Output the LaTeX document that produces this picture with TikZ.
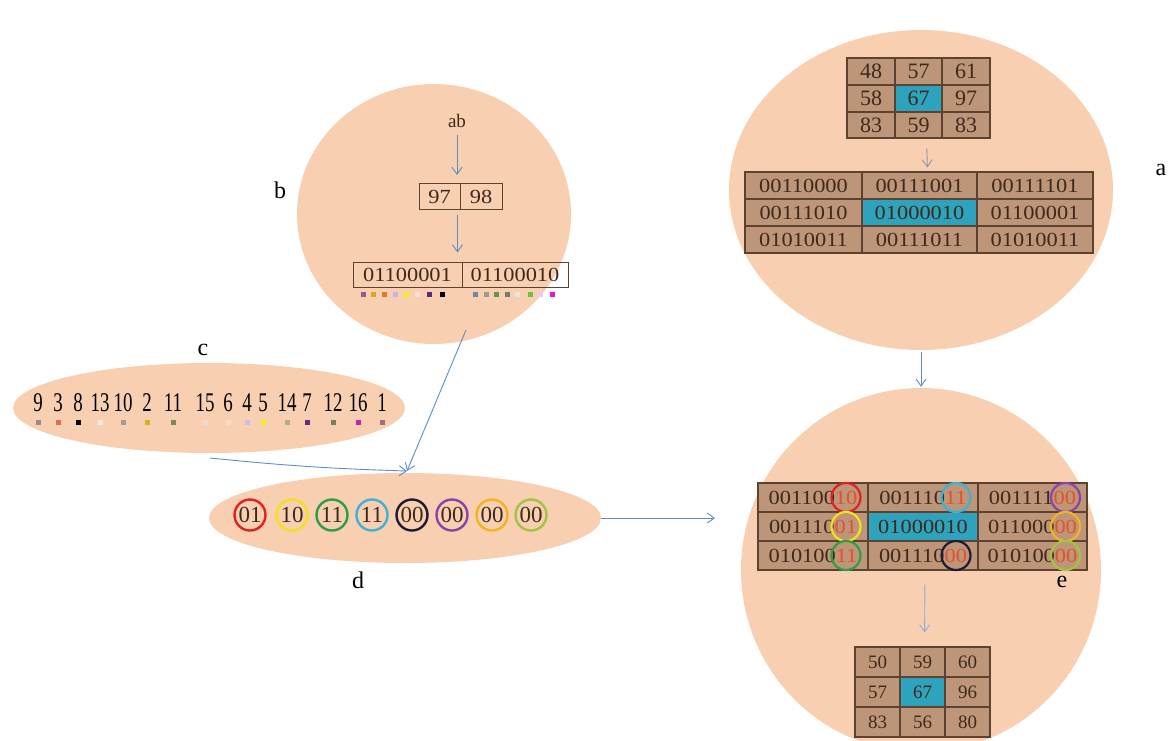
\documentclass[tikz,border=0pt]{standalone}
\usepackage{fontspec}
\setmainfont{Liberation Serif}
\newfontfamily\cnumfont[FakeStretch=0.7]{Liberation Serif}
\newfontfamily\widefont[FakeStretch=1.12]{Liberation Serif}
\usetikzlibrary{shapes.geometric,arrows.meta,calc}
\definecolor{peach}{HTML}{F8CFB1}
\definecolor{cellbrown}{HTML}{BD9579}
\definecolor{tealc}{HTML}{2EA3BD}
\definecolor{cellborder}{HTML}{5C4330}
\definecolor{celltext}{HTML}{3E2A1C}
\definecolor{arrowblue}{HTML}{5B8DC8}
\definecolor{arrowgray}{HTML}{8A98A8}
\definecolor{reddig}{HTML}{E8502A}
% ring colours
\definecolor{rred}{HTML}{E02222}
\definecolor{ryellow}{HTML}{F2E21E}
\definecolor{rgreen}{HTML}{2E9E44}
\definecolor{rcyan}{HTML}{3EB2D2}
\definecolor{rblack}{HTML}{1C1C34}
\definecolor{rpurple}{HTML}{8A44A6}
\definecolor{rgold}{HTML}{F2B422}
\definecolor{rygreen}{HTML}{A2C444}
% square colours
\definecolor{qa}{HTML}{8E5A9A}\definecolor{qb}{HTML}{D8A820}\definecolor{qc}{HTML}{E07830}
\definecolor{qd}{HTML}{C0B8E0}\definecolor{qe}{HTML}{F0F020}\definecolor{qf}{HTML}{F6E4D6}
\definecolor{qg}{HTML}{5A2A7A}\definecolor{qh}{HTML}{000000}
\definecolor{qi}{HTML}{6A8AA8}\definecolor{qj}{HTML}{9A9A9A}\definecolor{qk}{HTML}{5A9A50}
\definecolor{ql}{HTML}{7A7A6A}\definecolor{qm}{HTML}{E8E4E0}\definecolor{qn}{HTML}{70C040}
\definecolor{qo}{HTML}{E8C8F0}\definecolor{qp}{HTML}{F010D0}
\definecolor{s9}{HTML}{9A8A8A}\definecolor{s3}{HTML}{E07050}\definecolor{s8}{HTML}{000000}
\definecolor{s13}{HTML}{F0E8DC}\definecolor{s10}{HTML}{A89A90}\definecolor{s2}{HTML}{D8B020}
\definecolor{s11}{HTML}{7A8A5A}\definecolor{s15}{HTML}{E8DCD8}\definecolor{s6}{HTML}{F6DCC8}
\definecolor{s4}{HTML}{C8C0E0}\definecolor{s5}{HTML}{F0F020}\definecolor{s14}{HTML}{B0B080}
\definecolor{s7}{HTML}{6A2A7A}\definecolor{s12}{HTML}{7A7A60}\definecolor{s16}{HTML}{D020B0}
\definecolor{s1}{HTML}{A07080}
\newcommand\myfA{\fontsize{22}{24}\selectfont}
\newcommand\myfB{\widefont\fontsize{20}{22}\selectfont}
\newcommand\myfC{\fontsize{19}{21}\selectfont}
\newcommand\rd[1]{\textcolor{reddig}{#1}}
\begin{document}
\begin{tikzpicture}[x=1pt,y=-1pt,
  blob/.style={ellipse, fill=peach, draw=none, inner sep=0},
  arr/.style={draw=arrowblue, line width=0.9pt, -{Straight Barb[length=7pt,width=10pt]}},
  garr/.style={arr, draw=arrowgray},
  cell/.style={draw=cellborder, fill=cellbrown, line width=1.1pt, inner sep=0, text=celltext},
  tcell/.style={cell, fill=tealc},
  pcell/.style={draw=cellborder, line width=1pt, inner sep=0, text=celltext},
  lbl/.style={font=\fontsize{24}{26}\selectfont, text=black, inner sep=1pt},
  ring/.style={circle, draw=#1, line width=2.4pt, minimum size=31pt, inner sep=0, font=\fontsize{23}{25}\selectfont, text=celltext},
  ering/.style={circle, draw=#1, line width=2.2pt, minimum size=29pt, inner sep=0},
  cnum/.style={font=\cnumfont\fontsize{27}{29}\selectfont, inner sep=0, text=black}
]
\useasboundingbox (0,0) rectangle (1169,740);

% ---------- blobs ----------
\node[blob, minimum width=274, minimum height=260] (bcirc) at (434,214) {};
\node[blob, minimum width=392, minimum height=90] (ccirc) at (209,408) {};
\node[blob, minimum width=392, minimum height=90] (dell) at (405,518) {};
\node[blob, minimum width=384, minimum height=320] (acirc) at (921,190) {};
\node[blob, minimum width=360, minimum height=364] (ecirc) at (921,570) {};

% ---------- labels ----------
\node[lbl] (la) at (1161,170) {a};
\node[lbl] (lb) at (280,190) {b};
\node[lbl] (lc) at (203,350) {c};
\node[lbl] (ld) at (358,580) {d};
\node[lbl] (le) at (1062,582) {e};

% ---------- b ----------
\node[font=\fontsize{19}{21}\selectfont, inner sep=1pt, text=celltext] (ab) at (457,121) {ab};
\node[pcell, minimum width=41, minimum height=26, font=\myfB] (n97) at (439.5,196.5) {97};
\node[pcell, minimum width=42, minimum height=26, font=\myfB] (n98) at (481,196.5) {98};
\node[pcell, minimum width=109, minimum height=25, font=\myfB] (bin1) at (407.5,274.5) {01100001};
\node[pcell, minimum width=106, minimum height=25, font=\myfB] (bin2) at (515,274.5) {01100010};
\draw[arr, shorten <=6pt, shorten >=8pt] (ab.south) -- (ab.south |- n97.north);
\draw[arr, shorten <=5pt, shorten >=9pt] ([xshift=-3pt]n97.south east) -- ([xshift=-5pt]bin1.north east);
\foreach \x/\c in {363/qa,373/qb,384/qc,395/qd,406/qe,417/qf,429/qg,442/qh,
                   475/qi,486/qj,496/qk,507/ql,517/qm,530/qn,540/qo,552/qp}
  \fill[\c] (\x-2.5,292) rectangle ++(5,5);

% ---------- c ----------
\foreach \x/\t [count=\i] in {38/9,58/3,78/8,100/13,123/10,147/2,173/11,205/15,
                              228/6,247/4,263/5,287/14,307/7,333/12,358/16,382/1}
  \node[cnum] (cn\i) at (\x,403) {\t};
\foreach \x/\c in {38/s9,58/s3,78/s8,100/s13,123/s10,147/s2,173/s11,205/s15,
                   228/s6,247/s4,263/s5,287/s14,307/s7,333/s12,358/s16,382/s1}
  \fill[\c] (\x-2.5,420) rectangle ++(5,5);

% ---------- d ----------
\node[ring=rred]    (d1) at (250,515) {01};
\node[ring=ryellow] (d2) at (292,515) {10};
\node[ring=rgreen]  (d3) at (332,515) {11};
\node[ring=rcyan]   (d4) at (372,515) {11};
\node[ring=rblack]  (d5) at (412,515) {00};
\node[ring=rpurple] (d6) at (452,515) {00};
\node[ring=rgold]   (d7) at (492,515) {00};
\node[ring=rygreen] (d8) at (531,515) {00};

% ---------- connectors between blobs ----------
\coordinate (bout) at (466,330);
\coordinate (dtop) at (407,471);
\coordinate (cout) at (210,458);
\coordinate (dtip) at (715,518);
\draw[arr] (bout) -- (dtop);
\draw[arr] (cout) to[bend right=2] (dtop);
\draw[arr] (dell.east) -- (dtip);

% ---------- a tables ----------
\node[cell, minimum width=48, minimum height=27, font=\myfA] (a11) at (871,71.5) {48};
\node[cell, minimum width=47, minimum height=27, font=\myfA] (a12) at (918.5,71.5) {57};
\node[cell, minimum width=48, minimum height=27, font=\myfA] (a13) at (966,71.5) {61};
\node[cell, minimum width=48, minimum height=27, font=\myfA] (a21) at (871,98.5) {58};
\node[tcell, minimum width=47, minimum height=27, font=\myfA] (a22) at (918.5,98.5) {67};
\node[cell, minimum width=48, minimum height=27, font=\myfA] (a23) at (966,98.5) {97};
\node[cell, minimum width=48, minimum height=26, font=\myfA] (a31) at (871,125) {83};
\node[cell, minimum width=47, minimum height=26, font=\myfA] (a32) at (918.5,125) {59};
\node[cell, minimum width=48, minimum height=26, font=\myfA] (a33) at (966,125) {83};

\node[cell, minimum width=117, minimum height=27, font=\myfB] (b11) at (803.5,185.5) {00110000};
\node[cell, minimum width=115, minimum height=27, font=\myfB] (b12) at (919.5,185.5) {00111001};
\node[cell, minimum width=116, minimum height=27, font=\myfB] (b13) at (1035,185.5) {00111101};
\node[cell, minimum width=117, minimum height=27, font=\myfB] (b21) at (803.5,212.5) {00111010};
\node[tcell, minimum width=115, minimum height=27, font=\myfB] (b22) at (919.5,212.5) {01000010};
\node[cell, minimum width=116, minimum height=27, font=\myfB] (b23) at (1035,212.5) {01100001};
\node[cell, minimum width=117, minimum height=27, font=\myfB] (b31) at (803.5,239.5) {01010011};
\node[cell, minimum width=115, minimum height=27, font=\myfB] (b32) at (919.5,239.5) {00111011};
\node[cell, minimum width=116, minimum height=27, font=\myfB] (b33) at (1035,239.5) {01010011};
\draw[garr, shorten <=10pt, shorten >=4pt] ([xshift=8pt]a32.south) -- ([xshift=8pt]b12.north);

% ---------- a -> e ----------
\draw[arr, shorten <=2pt, shorten >=1pt] (acirc.south) -- (ecirc.north);

% ---------- e tables ----------
\node[cell, minimum width=110, minimum height=29, font=\myfB] (e11) at (813,497.5) {001100\rd{10}};
\node[cell, minimum width=110, minimum height=29, font=\myfB] (e12) at (923,497.5) {001110\rd{11}};
\node[cell, minimum width=109, minimum height=29, font=\myfB] (e13) at (1032.5,497.5) {001111\rd{00}};
\node[cell, minimum width=110, minimum height=29, font=\myfB] (e21) at (813,526.5) {001110\rd{01}};
\node[tcell, minimum width=110, minimum height=29, font=\myfB] (e22) at (923,526.5) {01000010};
\node[cell, minimum width=109, minimum height=29, font=\myfB] (e23) at (1032.5,526.5) {011000\rd{00}};
\node[cell, minimum width=110, minimum height=29, font=\myfB] (e31) at (813,555.5) {010100\rd{11}};
\node[cell, minimum width=110, minimum height=29, font=\myfB] (e32) at (923,555.5) {001110\rd{00}};
\node[cell, minimum width=109, minimum height=29, font=\myfB] (e33) at (1032.5,555.5) {010100\rd{00}};
\node[ering=rred]    (r11) at (846,497.5) {};
\node[ering=rcyan]   (r12) at (956,497.5) {};
\node[ering=rpurple] (r13) at (1065.5,497.5) {};
\node[ering=ryellow] (r21) at (846,526.5) {};
\node[ering=rgold]   (r23) at (1065.5,526.5) {};
\node[ering=rgreen]  (r31) at (846,555.5) {};
\node[ering=rblack]  (r32) at (956,555.5) {};
\node[ering=rygreen] (r33) at (1065.5,555.5) {};

\node[cell, minimum width=45, minimum height=30, font=\myfC] (f11) at (877.5,662) {50};
\node[cell, minimum width=45, minimum height=30, font=\myfC] (f12) at (922.5,662) {59};
\node[cell, minimum width=45, minimum height=30, font=\myfC] (f13) at (967.5,662) {60};
\node[cell, minimum width=45, minimum height=30, font=\myfC] (f21) at (877.5,692) {57};
\node[tcell, minimum width=45, minimum height=30, font=\myfC] (f22) at (922.5,692) {67};
\node[cell, minimum width=45, minimum height=30, font=\myfC] (f23) at (967.5,692) {96};
\node[cell, minimum width=45, minimum height=30, font=\myfC] (f31) at (877.5,722) {83};
\node[cell, minimum width=45, minimum height=30, font=\myfC] (f32) at (922.5,722) {56};
\node[cell, minimum width=45, minimum height=30, font=\myfC] (f33) at (967.5,722) {80};
\draw[arr, draw=arrowblue!70, shorten <=14pt, shorten >=14pt] ([xshift=2pt]e32.south) -- ([xshift=2pt]f12.north);
\end{tikzpicture}
\end{document}
